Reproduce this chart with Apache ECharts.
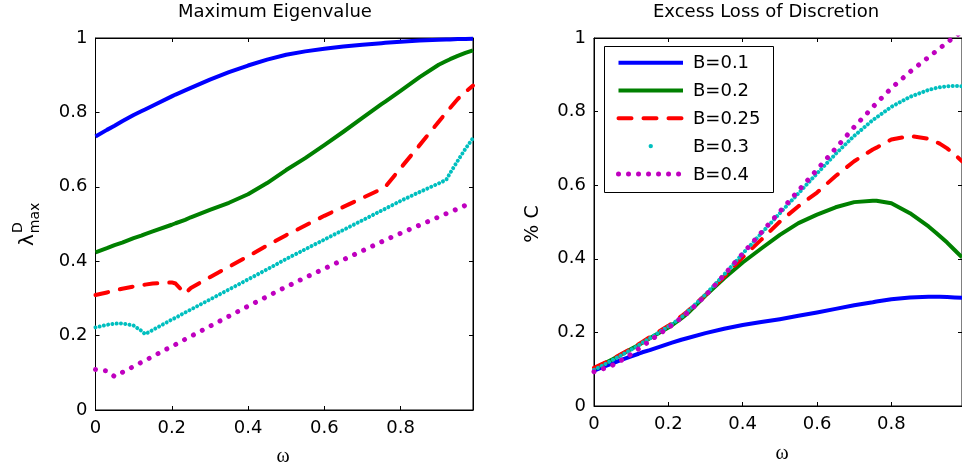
<!DOCTYPE html>
<html>
<head>
<meta charset="utf-8">
<script src="https://cdn.jsdelivr.net/npm/echarts@6/dist/echarts.min.js"></script>
<style>html,body{margin:0;padding:0;background:#fff}#c{width:962px;height:468px}</style>
</head>
<body>
<div id="c"></div>
<script>
// ---- data ----
const OMEGA = [0, 0.03, 0.05, 0.07, 0.1, 0.12, 0.13, 0.15, 0.2, 0.21, 0.235, 0.25, 0.3, 0.35, 0.4, 0.45, 0.5, 0.55, 0.6, 0.65, 0.7, 0.75, 0.76, 0.8, 0.85, 0.9, 0.92, 0.93, 0.95, 0.97, 0.99];
const SERIES_NAMES = ['B=0.1', 'B=0.2', 'B=0.25', 'B=0.3', 'B=0.4'];
const TICKS = [0, 0.2, 0.4, 0.6, 0.8, 1];

// Maximum eigenvalue (left panel)
const LAM_B01  = [0.735, 0.753, 0.764, 0.776, 0.793, 0.803, 0.808, 0.818, 0.843, 0.848, 0.859, 0.866, 0.888, 0.908, 0.926, 0.942, 0.955, 0.964, 0.971, 0.977, 0.982, 0.986, 0.987, 0.990, 0.993, 0.995, 0.996, 0.996, 0.997, 0.997, 0.998];
const LAM_B02  = [0.424, 0.435, 0.443, 0.450, 0.462, 0.469, 0.473, 0.480, 0.498, 0.502, 0.511, 0.518, 0.538, 0.557, 0.580, 0.610, 0.645, 0.677, 0.712, 0.748, 0.785, 0.822, 0.829, 0.858, 0.895, 0.928, 0.938, 0.943, 0.952, 0.960, 0.967];
const LAM_B025 = [0.309, 0.316, 0.321, 0.326, 0.332, 0.336, 0.337, 0.340, 0.343, 0.340, 0.313, 0.328, 0.357, 0.385, 0.413, 0.442, 0.470, 0.496, 0.522, 0.546, 0.570, 0.594, 0.600, 0.650, 0.712, 0.775, 0.800, 0.812, 0.836, 0.855, 0.872];
const LAM_B03  = [0.222, 0.229, 0.232, 0.233, 0.227, 0.213, 0.204, 0.215, 0.243, 0.248, 0.262, 0.270, 0.297, 0.324, 0.351, 0.378, 0.406, 0.432, 0.458, 0.484, 0.510, 0.536, 0.541, 0.562, 0.586, 0.609, 0.619, 0.637, 0.670, 0.702, 0.731];
const LAM_B04  = [0.109, 0.105, 0.090, 0.101, 0.117, 0.128, 0.133, 0.144, 0.171, 0.176, 0.190, 0.198, 0.225, 0.252, 0.279, 0.305, 0.331, 0.356, 0.380, 0.404, 0.428, 0.452, 0.457, 0.475, 0.497, 0.519, 0.528, 0.532, 0.541, 0.550, 0.559];

// Excess loss of discretion (right panel)
const C_B01  = [0.096, 0.108, 0.116, 0.124, 0.135, 0.142, 0.146, 0.152, 0.169, 0.172, 0.180, 0.184, 0.198, 0.210, 0.220, 0.228, 0.236, 0.245, 0.254, 0.264, 0.274, 0.282, 0.284, 0.290, 0.295, 0.297, 0.297, 0.297, 0.296, 0.295, 0.294];
const C_B02  = [0.102, 0.117, 0.127, 0.138, 0.155, 0.166, 0.172, 0.184, 0.213, 0.220, 0.238, 0.250, 0.300, 0.347, 0.390, 0.428, 0.465, 0.497, 0.520, 0.540, 0.554, 0.558, 0.558, 0.551, 0.524, 0.488, 0.471, 0.462, 0.444, 0.424, 0.404];
const C_B025 = [0.104, 0.118, 0.128, 0.139, 0.156, 0.168, 0.174, 0.187, 0.218, 0.225, 0.244, 0.256, 0.302, 0.352, 0.404, 0.452, 0.501, 0.543, 0.580, 0.625, 0.665, 0.697, 0.702, 0.724, 0.734, 0.726, 0.718, 0.713, 0.700, 0.684, 0.665];
const C_B03  = [0.098, 0.114, 0.125, 0.136, 0.153, 0.165, 0.172, 0.184, 0.216, 0.223, 0.241, 0.255, 0.303, 0.357, 0.414, 0.469, 0.524, 0.578, 0.632, 0.685, 0.734, 0.777, 0.784, 0.813, 0.840, 0.859, 0.864, 0.866, 0.869, 0.870, 0.869];
const C_B04  = [0.093, 0.103, 0.111, 0.122, 0.141, 0.155, 0.162, 0.177, 0.213, 0.220, 0.240, 0.252, 0.300, 0.356, 0.414, 0.471, 0.528, 0.585, 0.642, 0.700, 0.758, 0.812, 0.823, 0.864, 0.908, 0.948, 0.964, 0.972, 0.988, 1.003, 1.018];

const LEFT_DATA = [LAM_B01, LAM_B02, LAM_B025, LAM_B03, LAM_B04];
const RIGHT_DATA = [C_B01, C_B02, C_B025, C_B03, C_B04];

// ---- styles ----
const STYLES = [
  { color: '#0000ff', width: 4, type: 'solid', cap: 'butt' },
  { color: '#008000', width: 4, type: 'solid', cap: 'butt' },
  { color: '#ff0000', width: 4, type: [13, 12], cap: 'round' },
  { color: '#00bfbf', width: 4, type: [0.01, 4.3], cap: 'round' },
  { color: '#bf00bf', width: 5, type: [0.01, 10], cap: 'round' }
];
const FONT = 'DejaVu Sans';
const AX = '#000';

function pairs(ys) { return OMEGA.map((x, i) => [x, ys[i]]); }

function makeSeries(dataList, axisIdx) {
  return dataList.map((ys, i) => ({
    name: SERIES_NAMES[i] + (axisIdx ? ' ' : ''),
    type: 'line',
    xAxisIndex: axisIdx, yAxisIndex: axisIdx,
    data: pairs(ys),
    showSymbol: false, symbol: 'none',
    clip: true,
    lineStyle: { color: STYLES[i].color, width: STYLES[i].width, type: STYLES[i].type, cap: STYLES[i].cap, join: 'round' },
    z: 2 + i
  }));
}
// empty helper series so that the box axes (top / right) are bound and drawn
function boxSeries(idx) {
  return { type: 'line', xAxisIndex: idx, yAxisIndex: idx, data: [], silent: true, showSymbol: false };
}

const fmt = v => (TICKS.some(t => Math.abs(t - v) < 1e-9) ? String(+v.toFixed(1)) : '');

function xAx(grid, top, max) {
  return {
    type: 'value', gridIndex: grid, position: top ? 'top' : 'bottom',
    min: 0, max: max, interval: 0.2,
    axisLine: { show: true, onZero: false, lineStyle: { color: AX, width: 1 } },
    axisTick: { show: true, inside: true, length: 4, lineStyle: { color: AX } },
    axisLabel: { show: !top, margin: 9, color: '#000', fontFamily: FONT, fontSize: 18, showMaxLabel: false, formatter: fmt },
    splitLine: { show: false }
  };
}
function yAx(grid, right) {
  return {
    type: 'value', gridIndex: grid, position: right ? 'right' : 'left',
    min: 0, max: 1, interval: 0.2,
    axisLine: { show: true, onZero: false, lineStyle: { color: AX, width: 1 } },
    axisTick: { show: true, inside: true, length: 4, lineStyle: { color: AX } },
    axisLabel: { show: !right, margin: 8, color: '#000', fontFamily: FONT, fontSize: 18, formatter: fmt },
    splitLine: { show: false }
  };
}

// legend drawn as graphic (MATLAB style box)
const LEG = { x: 604, y: 46, w: 169, h: 146, row0: 62.7, dy: 27.8, lx0: 618.5, lx1: 683, tx: 693 };
const legendChildren = [{
  type: 'rect', shape: { x: LEG.x + 0.5, y: LEG.y + 0.5, width: LEG.w, height: LEG.h },
  style: { fill: '#fff', stroke: '#000', lineWidth: 1 }
}];
SERIES_NAMES.forEach((name, i) => {
  const y = LEG.row0 + i * LEG.dy;
  const s = STYLES[i];
  if (i === 3) {
    legendChildren.push({ type: 'circle', shape: { cx: (LEG.lx0 + LEG.lx1) / 2, cy: y, r: 2.2 }, style: { fill: s.color } });
  } else {
    legendChildren.push({
      type: 'line', shape: { x1: LEG.lx0, y1: y, x2: LEG.lx1, y2: y },
      style: { stroke: s.color, lineWidth: s.width, lineDash: Array.isArray(s.type) ? s.type : null, lineCap: s.cap }
    });
  }
  legendChildren.push({
    type: 'text', x: LEG.tx, y: y + 1,
    style: { text: name, font: '18px "' + FONT + '"', fill: '#000', align: 'left', verticalAlign: 'middle', textAlign: 'left', textVerticalAlign: 'middle' }
  });
});

function txt(x, y, text, font, rot, align, valign) {
  return {
    type: 'text', x: x, y: y, rotation: rot || 0, z: 100,
    style: { text: text, font: font, fill: '#000', align: align || 'center', verticalAlign: valign || 'middle', textAlign: align || 'center', textVerticalAlign: valign || 'middle' }
  };
}

const option = {
  animation: false,
  backgroundColor: '#fff',
  title: [
    { text: 'Maximum Eigenvalue', left: 178, top: 3, padding: 0, textStyle: { fontFamily: FONT, fontSize: 18, fontWeight: 'normal', color: '#000' } },
    { text: 'Excess Loss of Discretion', left: 653, top: 3, padding: 0, textStyle: { fontFamily: FONT, fontSize: 18, fontWeight: 'normal', color: '#000' } }
  ],
  grid: [
    { left: 95.5, top: 38, width: 377.5, height: 372, show: true, borderColor: AX, borderWidth: 1, backgroundColor: 'transparent' },
    { left: 594, top: 38, width: 375, height: 368, show: true, borderColor: AX, borderWidth: 1, backgroundColor: 'transparent' }
  ],
  xAxis: [xAx(0, false, 0.99), xAx(1, false, 0.99), xAx(0, true, 0.99), xAx(1, true, 0.99)],
  yAxis: [yAx(0, false), yAx(1, false), yAx(0, true), yAx(1, true)],
  series: [].concat(makeSeries(LEFT_DATA, 0), makeSeries(RIGHT_DATA, 1), [boxSeries(2), boxSeries(3)]),
  graphic: [
    { type: 'group', z: 100, children: legendChildren },
    txt(283, 457, 'ω', '20px "Liberation Serif"'),
    txt(782, 454, 'ω', '20px "Liberation Serif"'),
    txt(533.5, 224, '% C', '19px "' + FONT + '"', Math.PI / 2),
    txt(28, 240, 'λ', '20px "' + FONT + '"', Math.PI / 2),
    txt(18, 227.5, 'D', '14px "' + FONT + '"', Math.PI / 2),
    txt(35, 218, 'max', '14px "' + FONT + '"', Math.PI / 2)
  ]
};

const chart = echarts.init(document.getElementById('c'), null, { renderer: 'canvas' });
chart.setOption(option);
</script>
</body>
</html>
